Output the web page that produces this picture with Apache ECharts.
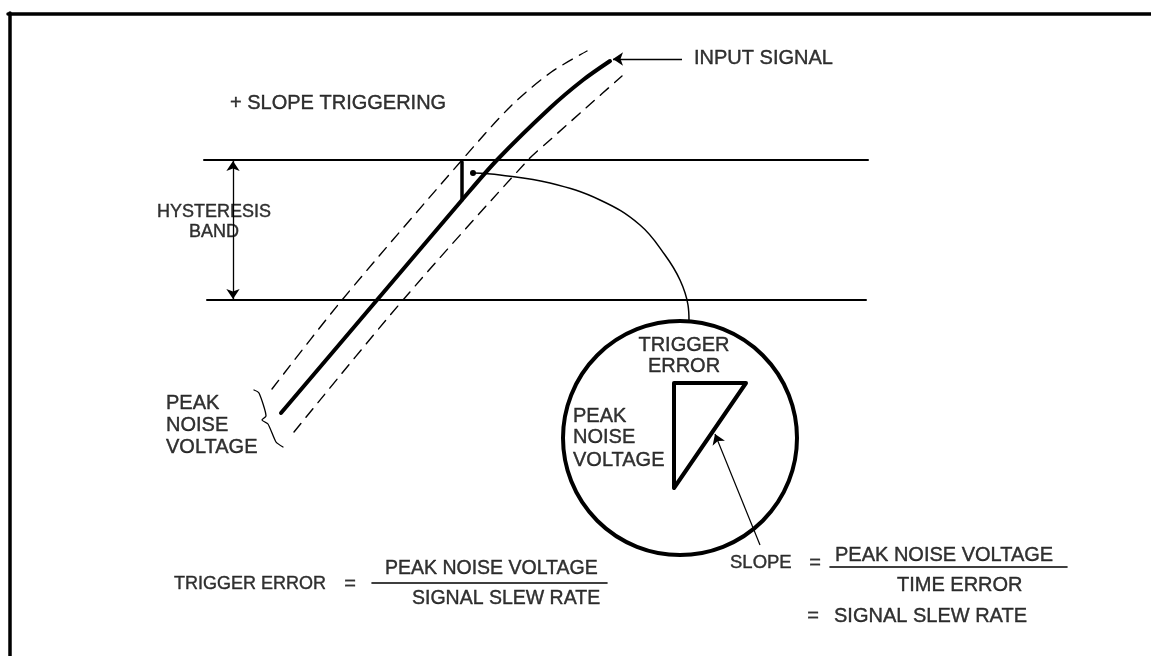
<!DOCTYPE html>
<html>
<head>
<meta charset="utf-8">
<style>
  html, body { margin: 0; padding: 0; background: #fff; }
  #chart { width: 1151px; height: 656px; }
</style>
<script src="https://cdn.jsdelivr.net/npm/echarts@6/dist/echarts.min.js"></script>
</head>
<body>
<div id="chart"></div>
<script>
// 坐标 = 像素位置 (左上为原点)

// 输入信号 (粗实线) 与噪声包络 (虚线)
const signalLine = [[281, 413], [377, 300], [462, 200], [497, 160], [550, 108], [583, 80], [610, 61]]
const noiseUpper = [[272, 389], [342, 300], [462, 160], [510, 107], [550, 73], [587, 51]]
const noiseLower = [[294, 432], [403, 300], [528, 160], [550, 140], [587, 107], [622, 76]]

// 迟滞带
const bandTop = [[204, 160], [868, 160]]
const bandBottom = [[207, 300], [866, 300]]
const bandArrow = [[233, 161], [233, 299]]

// 触发误差标记 + 引出弧线
const triggerMark = [[462, 162], [462, 200]]
const calloutDot = [[473, 173]]
const calloutArc = [[473, 173], [500, 175], [550, 183], [600, 200], [640, 225], [665, 255], [680, 280], [688, 305], [689, 321]]

// 放大圆 + 三角形
const zoomCircle = [[680, 438]]
const errorTriangle = [[674, 383], [746, 383], [674, 488], [674, 383]]
const slopeArrow = [[760, 545], [715, 434]]

// 峰值噪声括号
const noiseBrace = [[254, 390], [259, 393], [266, 416], [262, 420], [268, 424], [276, 442], [283, 447]]

// 输入信号箭头
const inputArrow = [[682, 59], [613, 59]]

// 公式分数线
const fractionLeft = [[372, 583], [607, 583]]
const fractionRight = [[830, 567], [1067, 567]]

// 边框
const frameTop = [[8, 14], [1151, 14]]
const frameLeft = [[10, 13], [10, 656]]

// 文字 [x, y, 文本, 对齐]
const labelTexts = [
  [230, 103, '+ SLOPE TRIGGERING', 'left'],
  [694, 58, 'INPUT SIGNAL', 'left'],
  [214, 212, 'HYSTERESIS', 'center'],
  [214, 232, 'BAND', 'center'],
  [166, 403, 'PEAK', 'left'],
  [166, 425, 'NOISE', 'left'],
  [166, 447, 'VOLTAGE', 'left'],
  [684, 345, 'TRIGGER', 'center'],
  [684, 366, 'ERROR', 'center'],
  [573, 416, 'PEAK', 'left'],
  [573, 437, 'NOISE', 'left'],
  [573, 460, 'VOLTAGE', 'left'],
  [174, 584, 'TRIGGER ERROR', 'left'],
  [350, 584, '=', 'center'],
  [385, 569, 'PEAK NOISE VOLTAGE', 'left'],
  [412, 599, 'SIGNAL SLEW RATE', 'left'],
  [730, 563, 'SLOPE', 'left'],
  [815, 563, '=', 'center'],
  [835, 555, 'PEAK NOISE VOLTAGE', 'left'],
  [897, 585, 'TIME ERROR', 'left'],
  [813, 616, '=', 'center'],
  [834, 616, 'SIGNAL SLEW RATE', 'left']
]

const INK = '#000'
const FONT = '"Liberation Sans", Arial, sans-serif'

// 个别文字字号 (原图字距不一)
const fontSizeOf = (text, i) => {
  if (text === 'HYSTERESIS' || text === 'BAND') return 18
  if (i === 12) return 18
  if (text === 'SLOPE') return 18.5
  if (i === 14 || i === 15) return 19.5
  return 20
}

const chart = echarts.init(document.getElementById('chart'))

/**
 * 折线
 */
const path = (data, width, opts = {}) => ({
  type: 'line',
  data,
  showSymbol: false,
  symbol: 'none',
  smooth: opts.smooth || false,
  silent: true,
  lineStyle: {
    color: INK,
    width,
    opacity: 1,
    type: opts.dash ? [11, 8] : 'solid',
    cap: 'round',
    join: 'round'
  },
  z: opts.z || 2
})

/**
 * 箭头线
 */
const arrow = (pts, symbols, width, size) => ({
  type: 'lines',
  coordinateSystem: 'cartesian2d',
  silent: true,
  symbol: symbols,
  symbolSize: size,
  lineStyle: { color: INK, width, opacity: 1 },
  data: [{ coords: pts }],
  z: 3
})

const option = {
  animation: false,
  backgroundColor: '#fff',
  grid: { left: 0, right: 0, top: 0, bottom: 0 },
  xAxis: { type: 'value', min: 0, max: 1151, show: false },
  yAxis: { type: 'value', min: 0, max: 656, inverse: true, show: false },
  series: [
    path(frameTop, 3.5),
    path(frameLeft, 3.5),
    path(bandTop, 2),
    path(bandBottom, 2),
    path(noiseUpper, 1.4, { smooth: 0.3, dash: true }),
    path(noiseLower, 1.4, { smooth: 0.3, dash: true }),
    path(signalLine, 4, { smooth: 0.3, z: 4 }),
    path(triggerMark, 3.5),
    path(calloutArc, 1.5, { smooth: 0.4 }),
    path(errorTriangle, 4),
    path(noiseBrace, 1.3, { smooth: 0.2 }),
    path(fractionLeft, 1.6),
    path(fractionRight, 1.6),
    arrow(bandArrow, ['arrow', 'arrow'], 1.3, 10),
    arrow(inputArrow, ['none', 'arrow'], 1.4, 10),
    arrow(slopeArrow, ['none', 'arrow'], 1.2, 10),
    {
      type: 'scatter',
      data: calloutDot,
      symbolSize: 6,
      silent: true,
      itemStyle: { color: INK, opacity: 1 },
      z: 5
    },
    {
      type: 'scatter',
      data: zoomCircle,
      symbolSize: 234,
      silent: true,
      itemStyle: { color: 'rgba(0,0,0,0)', borderColor: INK, borderWidth: 4, opacity: 1 },
      z: 3
    },
    {
      type: 'scatter',
      silent: true,
      symbolSize: 0,
      data: labelTexts.map((t, i) => ({
        value: [t[0], t[1]],
        name: t[2],
        label: { align: t[3], fontSize: fontSizeOf(t[2], i) }
      })),
      label: {
        show: true,
        position: 'inside',
        verticalAlign: 'middle',
        formatter: p => p.name,
        color: INK,
        fontSize: 20,
        fontFamily: FONT,
        textBorderColor: INK,
        textBorderWidth: 0.4
      },
      z: 10
    }
  ]
}

chart.setOption(option)

window.addEventListener('resize', () => chart.resize())
</script>
</body>
</html>
